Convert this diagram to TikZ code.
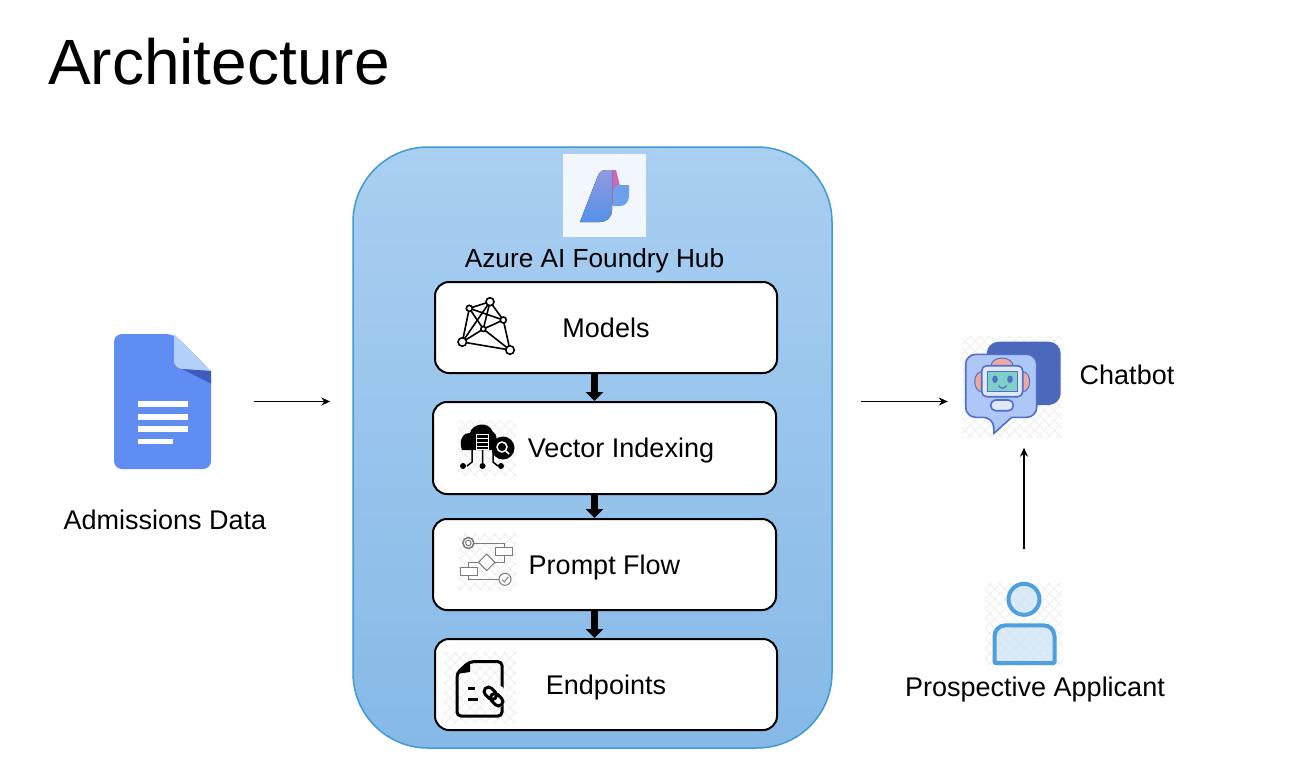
\documentclass[tikz,border=0pt]{standalone}
\usepackage{fontspec}
\setmainfont{Liberation Sans}
\usetikzlibrary{arrows.meta, positioning, patterns.meta}
\definecolor{chub}{HTML}{3F9BD2}
\definecolor{chubtop}{HTML}{A9CFF1}
\definecolor{chubbot}{HTML}{86B9E7}
\definecolor{cdoc}{HTML}{5F8DF1}
\definecolor{cfold}{HTML}{B3D0F8}
\definecolor{cdark}{HTML}{3F5BBF}
\definecolor{cbotback}{HTML}{4C68BC}
\definecolor{cbotfront}{HTML}{AEC7F6}
\definecolor{cbotline}{HTML}{4F6FC8}
\definecolor{cear}{HTML}{EFA9A0}
\definecolor{cface}{HTML}{E0E8F8}
\definecolor{cscreen}{HTML}{7FD0C8}
\definecolor{cuser}{HTML}{4E9FE0}
\definecolor{cuserfill}{HTML}{CFE3F5}
\definecolor{cflow}{HTML}{7A7A7A}
\definecolor{cpink}{HTML}{C76CB6}
\definecolor{clogotop}{HTML}{8F9AE0}
\definecolor{clogobot}{HTML}{5590E8}
\tikzset{
  every node/.style={font=\fontsize{27}{30}\selectfont},
  hubbox/.style={draw=chub, line width=1.5pt, top color=chubtop, bottom color=chubbot, rounded corners=75pt, minimum width=479pt, minimum height=601pt, inner sep=0pt},
  stagebox/.style={draw=black, fill=white, line width=2pt, rounded corners=14pt, minimum width=#1, minimum height=91pt, inner sep=0pt, text height=25pt, text depth=6pt},
  stagebox/.default=342pt,
  iconbox/.style={minimum width=#1, inner sep=0pt},
  label/.style={inner sep=0pt, text height=25pt, text depth=6pt},
  arrow/.style={-{Stealth[length=9pt, width=8pt]}, line width=1.3pt},
  stagearrow/.style={-{Triangle[length=9pt, width=17pt]}, line width=7.5pt},
  graphdot/.style={circle, draw=black, fill=white, line width=1.6pt, inner sep=0pt},
  hatch/.style={pattern={Lines[angle=45, distance=7pt, line width=0.7pt]}, pattern color=black!7, preaction={pattern={Lines[angle=-45, distance=7pt, line width=0.7pt]}, pattern color=black!7}, draw=none},
  flowbox/.style={draw=cflow, fill=white, line width=1pt, minimum width=17pt, minimum height=8pt, inner sep=0pt},
}
\begin{document}
\begin{tikzpicture}[x=1pt, y=-1pt]
  \useasboundingbox[fill=white] (0,0) rectangle (1290,772);
  \node[inner sep=0pt, anchor=base west, font=\fontsize{64}{70}\selectfont] (title) at (48,84) {Architecture};
  % the hub and its stages
  \node[hubbox] (hub) at (592.5,447.5) {};
  \node[iconbox=83pt, minimum height=83pt, fill=white!60!chubtop!40!white] (foundry) at (604.5,195.5) {};
  \node[label, font=\fontsize{26.2}{30}\selectfont] (hublabel) at (594.5,258) {Azure AI Foundry Hub};
  \node[stagebox] (models) at (606,327.5) {Models};
  \node[stagebox=343pt, minimum height=92pt] (vector) at (604.5,448) {\hspace*{33pt}Vector Indexing};
  \node[stagebox=343pt] (prompt) at (604.5,564.5) {Prompt Flow};
  \node[stagebox] (endpoints) at (606,684.5) {Endpoints};
  \coordinate (spine) at (594.5,0);
  \draw[stagearrow] (models.south -| spine) -- (vector.north -| spine);
  \draw[stagearrow] (vector.south -| spine) -- (prompt.north -| spine);
  \draw[stagearrow] (prompt.south -| spine) -- (endpoints.north -| spine);
  % outside the hub
  \node[iconbox=98pt, minimum height=135pt] (doc) at (162.5,401.5) {};
  \node[label] (doclabel) at (165,520) {Admissions Data};
  \node[iconbox=97pt, minimum height=97pt] (bot) at (1013.5,388) {};
  \node[label] (botlabel) at (1127,375) {Chatbot};
  \node[iconbox=65pt, minimum height=82pt] (user) at (1024,624) {};
  \node[label] (userlabel) at (1035,687) {Prospective Applicant};
  \draw[arrow, shorten <=42pt, shorten >=22pt] (doc.east) -- (doc.east -| hub.west);
  \draw[arrow, shorten <=28pt, shorten >=17pt] (hub.east |- doc.east) -- (bot.west |- doc.east);
  \draw[arrow, shorten <=34pt, shorten >=11pt] (user.north) -- (user.north |- bot.south);
  % document icon
  \fill[cdoc, rounded corners=8pt] (114,469) -- (114,334) -- (174,334) -- (211,371) -- (211,469) -- cycle;
  \fill[cfold] (174,334) -- (211,371) -- (182,369) .. controls (177,368) and (174,365) .. (174,361) -- cycle;
  \fill[cdark] (182,369) -- (211,371) -- (211,383.5) -- cycle;
  \foreach \y/\e in {404/187.5, 417/187.5, 429/187.5, 441.5/173} {
    \fill[white] (137.5,\y-2.7) rectangle (\e,\y+2.7);
  }
  % foundry logo
  \fill[cpink] (610,170) -- (616,170) -- (620,186) -- (612,206) -- cycle;
  \fill[top color=clogotop, bottom color=clogobot] (580,222) -- (597,178) .. controls (599,172) and (602,170) .. (606,170) -- (612,170) -- (612,210) .. controls (612,218) and (606,222) .. (600,222) -- cycle;
  \fill[clogobot!85!white] (619,185) -- (629,185) -- (629,196) .. controls (629,202) and (625,206) .. (620,206) -- (613,206) -- (613,192) .. controls (613,188) and (616,185) .. (619,185) -- cycle;
  % models icon
  \foreach \n/\x/\y in {g1/490/301.7, g2/469.3/308.3, g3/503.3/320, g4/483.3/329, g5/462.3/342, g6/510/350} {
    \coordinate (\n) at (\x,\y);
  }
  \foreach \s/\t in {g1/g2, g1/g3, g1/g4, g1/g5, g2/g3, g2/g4, g2/g5, g3/g4, g3/g6, g4/g5, g4/g6, g5/g6} {
    \draw[line width=1.6pt] (\s) -- (\t);
  }
  \foreach \n/\r in {g1/8pt, g2/6pt, g3/6pt, g4/5pt, g5/8.5pt, g6/8.5pt} {
    \node[graphdot, minimum size=\r] at (\n) {};
  }
  % vector indexing icon
  \fill[hatch] (458,420) rectangle (516,475);
  \fill[black] (462,450) .. controls (458,440) and (464,432) .. (470,433) .. controls (472,424) and (488,420) .. (493,432) .. controls (497,434) and (498,440) .. (495,450) -- cycle;
  \draw[white, fill=black, line width=1pt] (476,434.5) rectangle (488,449);
  \foreach \y in {438.5, 442.5, 446.5} { \draw[white, line width=1pt] (476,\y) -- (488,\y); }
  \draw[line width=1.5pt] (472,450) -- (472,462) -- (467,466) (482.5,450) -- (482.5,466) (493,452) -- (493,462) -- (498,466);
  \foreach \x in {463, 482.5, 501} { \fill (\x,466) circle (3pt); }
  \fill (503,448) circle (11.5pt);
  \draw[white, line width=1.5pt] (502,447) circle (5pt);
  \draw[white, line width=1.5pt] (506,451) -- (509,454);
  % prompt flow icon
  \fill[hatch] (458,533) rectangle (516,590);
  \draw[cflow, line width=1pt] (474,543) -- (504,543) -- (504,562) -- (478,562) -- (468.7,562) -- (468.7,579) -- (499,579);
  \draw[cflow, line width=1.5pt, fill=white] (468.3,543) circle (5.5pt);
  \draw[cflow, line width=1pt] (468.3,543) circle (2.8pt);
  \node[flowbox] (flow1) at (504,551.3) {};
  \node[flowbox] (flow2) at (468.7,571.3) {};
  \draw[cflow, line width=1pt, fill=white] (486.7,554) -- (495,562.3) -- (486.7,570.5) -- (478.5,562.3) -- cycle;
  \draw[cflow, line width=1pt, fill=white] (505,579.3) circle (6pt);
  \draw[cflow, line width=1pt] (502,579.5) -- (504.3,581.8) -- (508.5,576.8);
  % endpoints icon
  \fill[hatch] (444,652) rectangle (516,722);
  \draw[line width=3pt, rounded corners=4pt] (469.5,661.7) -- (502,661.7) -- (502,716) -- (457,716) -- (457,673) -- cycle;
  \fill (456,674) -- (470,660.5) -- (470,672) -- cycle;
  \draw[line width=3pt] (468,688) -- (475,688) (468,699.3) -- (478,699.3);
  \fill[white] (493.5,696.5) circle (13pt);
  \draw[line width=3pt, rotate around={-45:(493.5,696.5)}, rounded corners=4.5pt] (482,692) rectangle (496,701) (491,692) rectangle (505,701);
  % chatbot icon
  \fill[hatch] (962,336) rectangle (1062,437);
  \fill[cbotback, rounded corners=12pt] (986.7,341.7) rectangle (1060.7,405);
  \draw[cbotline, fill=cbotfront, line width=1.6pt, rounded corners=10pt] (1011.7,417.3) -- (1036.7,417.3) -- (1036.7,354.3) -- (965.7,354.3) -- (965.7,417.3) -- (993.3,417.3) [sharp corners] -- (994,433.3) -- (1011.7,417.3);
  \foreach \x/\y/\a/\b in {981.7/381.7/7/10, 1022.7/381.7/7/10, 1002/366/11/8} {
    \draw[cbotline, fill=cear, line width=1pt] (\x,\y) ellipse (\a pt and \b pt);
  }
  \draw[cbotline, fill=cface, line width=1.6pt, rounded corners=5pt] (981.7,365.7) rectangle (1022.7,396.7);
  \draw[cbotline, fill=cscreen, line width=1pt] (987.3,371.7) rectangle (1017.3,391.7);
  \foreach \x in {995, 1010} { \fill[cbotline] (\x,379.3) ellipse (2.8pt and 3.8pt); }
  \draw[cbotline, line width=1.2pt] (998.5,385.5) .. controls (1000,389) and (1005,389) .. (1006.5,385.5);
  \draw[cbotline, fill=cface, line width=1.6pt, rounded corners=5pt] (990.7,400) rectangle (1013.3,410.7);
  % applicant icon
  \fill[hatch] (985,583) rectangle (1062,665);
  \draw[cuser, fill=cuserfill, fill opacity=0.75, line width=4pt] (1024,599.3) circle (15.5pt);
  \draw[cuser, fill=cuserfill, fill opacity=0.75, line width=4pt, rounded corners=11pt] (994.5,663) -- (994.5,625.3) -- (1054.5,625.3) [rounded corners=1pt] -- (1054.5,663) -- cycle;
\end{tikzpicture}
\end{document}
